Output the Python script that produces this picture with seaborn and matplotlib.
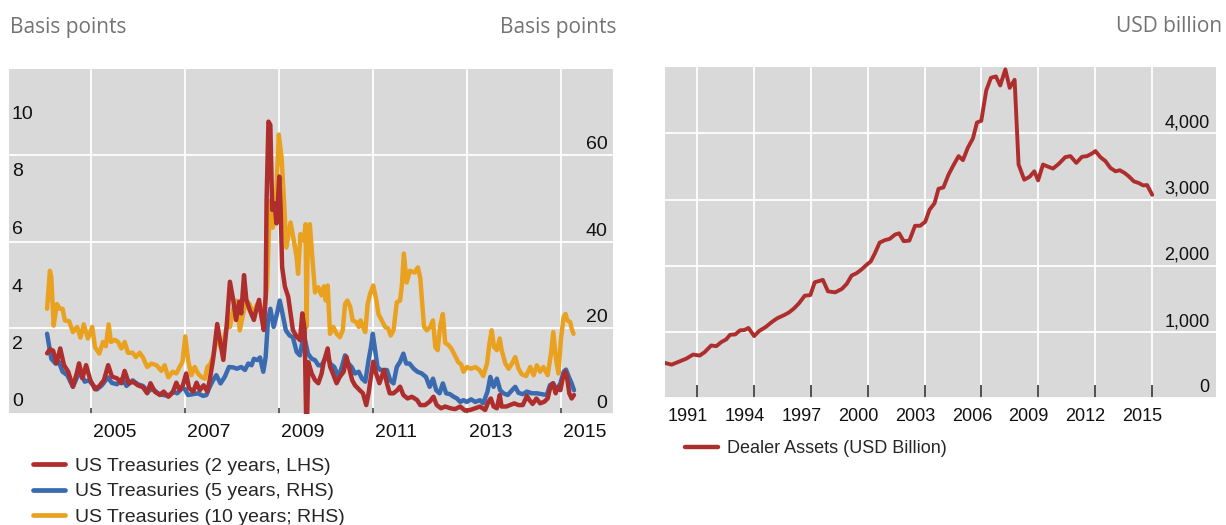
import matplotlib
matplotlib.use("Agg")
import matplotlib.pyplot as plt
import seaborn as sns
from matplotlib.lines import Line2D
from matplotlib.ticker import StrMethodFormatter
from matplotlib.transforms import ScaledTranslation

# ---------------------------------------------------------------------------
# Bid-ask spreads on US Treasuries (basis points), weekly observations
# ---------------------------------------------------------------------------
t10_years = [
    2004.07, 2004.13, 2004.16, 2004.21, 2004.28, 2004.34, 2004.40, 2004.45, 2004.54, 2004.62,
    2004.71, 2004.78, 2004.85, 2004.94, 2005.03, 2005.09, 2005.18, 2005.26, 2005.32, 2005.38,
    2005.43, 2005.51, 2005.58, 2005.65, 2005.72, 2005.79, 2005.89, 2005.96, 2006.04, 2006.11,
    2006.20, 2006.29, 2006.40, 2006.50, 2006.57, 2006.65, 2006.74, 2006.82, 2006.89, 2006.95,
    2007.01, 2007.07, 2007.14, 2007.21, 2007.28, 2007.35, 2007.43, 2007.48, 2007.55, 2007.62,
    2007.69, 2007.76, 2007.83, 2007.89, 2007.96, 2008.03, 2008.10, 2008.17, 2008.24, 2008.31,
    2008.38, 2008.45, 2008.54, 2008.60, 2008.67, 2008.75, 2008.81, 2008.87, 2008.93, 2009.00,
    2009.06, 2009.11, 2009.16, 2009.25, 2009.32, 2009.38, 2009.41, 2009.46, 2009.53, 2009.57,
    2009.59, 2009.62, 2009.66, 2009.72, 2009.77, 2009.84, 2009.91, 2009.96, 2010.00, 2010.04,
    2010.09, 2010.16, 2010.23, 2010.30, 2010.36, 2010.41, 2010.46, 2010.52, 2010.57, 2010.65,
    2010.70, 2010.74, 2010.79, 2010.84, 2010.89, 2010.94, 2011.01, 2011.07, 2011.12, 2011.19,
    2011.26, 2011.33, 2011.38, 2011.44, 2011.51, 2011.58, 2011.62, 2011.66, 2011.72, 2011.79,
    2011.89, 2011.96, 2012.01, 2012.09, 2012.15, 2012.22, 2012.28, 2012.33, 2012.38, 2012.43,
    2012.49, 2012.54, 2012.61, 2012.68, 2012.75, 2012.82, 2012.88, 2012.93, 2013.00, 2013.09,
    2013.18, 2013.27, 2013.35, 2013.43, 2013.48, 2013.53, 2013.58, 2013.64, 2013.70, 2013.74,
    2013.82, 2013.89, 2013.96, 2014.03, 2014.10, 2014.17, 2014.26, 2014.35, 2014.42, 2014.49,
    2014.56, 2014.63, 2014.72, 2014.79, 2014.84, 2014.90, 2014.95, 2015.00, 2015.06, 2015.10,
    2015.14, 2015.20, 2015.23, 2015.27,
]
t10_spread = [
    24.4, 33.2, 31.7, 20.5, 25.5, 24.4, 24.4, 21.7, 21.5, 19.0,
    20.2, 17.7, 20.8, 17.5, 20.2, 15.5, 14.0, 16.7, 15.7, 20.8,
    16.7, 17.2, 16.7, 15.2, 16.7, 14.2, 14.2, 13.2, 14.2, 13.1,
    10.9, 11.7, 11.3, 10.0, 11.3, 8.5, 9.8, 9.4, 10.9, 12.1,
    18.0, 12.5, 9.0, 10.9, 9.4, 8.6, 8.2, 10.9, 11.7, 14.0,
    18.6, 15.5, 17.1, 20.2, 20.2, 24.4, 26.3, 19.4, 23.2, 26.3,
    25.5, 23.2, 25.5, 24.0, 22.5, 29.4, 49.4, 43.2, 47.1, 64.8,
    59.4, 49.4, 38.6, 44.4, 40.2, 36.3, 32.5, 41.7, 40.2, 44.0,
    20.2, 42.0, 44.0, 35.5, 28.2, 29.4, 27.5, 29.6, 26.3, 29.8,
    18.6, 20.2, 18.6, 17.8, 19.4, 25.5, 26.3, 24.8, 21.7, 21.3,
    20.2, 21.7, 20.2, 19.0, 25.5, 27.8, 29.8, 26.7, 23.2, 21.7,
    20.2, 19.8, 18.2, 19.4, 25.9, 26.3, 30.0, 37.2, 30.5, 33.2,
    32.8, 34.0, 31.5, 20.2, 19.4, 20.2, 21.7, 15.5, 14.8, 20.2,
    23.2, 16.5, 16.0, 15.0, 13.5, 12.0, 11.5, 9.8, 10.9, 10.5,
    10.9, 10.2, 8.8, 11.7, 16.3, 19.4, 15.5, 14.8, 17.5, 14.8,
    11.7, 10.5, 11.7, 13.2, 10.5, 9.2, 8.8, 10.9, 9.0, 11.3,
    9.8, 10.9, 9.0, 14.0, 19.0, 12.5, 9.4, 17.1, 22.5, 23.2,
    21.7, 21.3, 19.8, 18.6,
]

t5_years = [
    2004.07, 2004.16, 2004.25, 2004.32, 2004.40, 2004.50, 2004.62, 2004.71, 2004.80, 2004.87,
    2004.96, 2005.05, 2005.13, 2005.24, 2005.36, 2005.45, 2005.56, 2005.67, 2005.76, 2005.89,
    2006.00, 2006.11, 2006.22, 2006.31, 2006.43, 2006.54, 2006.65, 2006.75, 2006.84, 2006.93,
    2007.00, 2007.07, 2007.18, 2007.28, 2007.39, 2007.46, 2007.53, 2007.60, 2007.67, 2007.76,
    2007.85, 2007.94, 2008.03, 2008.11, 2008.20, 2008.28, 2008.35, 2008.42, 2008.47, 2008.54,
    2008.60, 2008.67, 2008.72, 2008.77, 2008.82, 2008.89, 2008.96, 2009.02, 2009.08, 2009.15,
    2009.23, 2009.30, 2009.38, 2009.45, 2009.53, 2009.62, 2009.70, 2009.77, 2009.84, 2009.91,
    2009.97, 2010.02, 2010.09, 2010.18, 2010.27, 2010.34, 2010.41, 2010.48, 2010.55, 2010.62,
    2010.70, 2010.77, 2010.84, 2010.91, 2010.96, 2011.00, 2011.05, 2011.10, 2011.16, 2011.23,
    2011.30, 2011.37, 2011.44, 2011.51, 2011.58, 2011.65, 2011.71, 2011.78, 2011.87, 2011.95,
    2012.04, 2012.13, 2012.21, 2012.28, 2012.35, 2012.42, 2012.49, 2012.56, 2012.64, 2012.72,
    2012.79, 2012.86, 2012.93, 2013.00, 2013.09, 2013.18, 2013.28, 2013.35, 2013.44, 2013.50,
    2013.57, 2013.64, 2013.71, 2013.78, 2013.87, 2013.96, 2014.03, 2014.10, 2014.19, 2014.28,
    2014.38, 2014.49, 2014.60, 2014.70, 2014.77, 2014.84, 2014.91, 2014.99, 2015.06, 2015.11,
    2015.17, 2015.23, 2015.28,
]
t5_spread = [
    18.6, 12.8, 11.7, 12.1, 9.8, 9.0, 6.3, 8.6, 9.4, 7.5,
    7.8, 6.7, 5.7, 6.7, 8.5, 7.2, 6.9, 8.2, 6.5, 7.8,
    6.9, 6.5, 5.2, 5.9, 4.8, 4.4, 4.2, 5.2, 4.8, 5.9,
    5.8, 4.4, 4.6, 4.8, 4.2, 4.4, 6.3, 7.8, 9.0, 7.1,
    8.6, 10.9, 10.8, 10.5, 10.9, 10.2, 11.7, 11.3, 12.8, 12.5,
    13.1, 9.8, 13.2, 21.7, 24.4, 20.2, 23.2, 26.3, 23.2, 19.4,
    18.2, 17.8, 14.4, 13.6, 18.6, 14.0, 12.8, 12.5, 11.3, 11.3,
    12.5, 14.0, 11.7, 10.9, 8.6, 10.9, 13.6, 11.7, 10.9, 9.4,
    9.8, 8.2, 7.5, 12.5, 15.5, 18.6, 14.8, 10.9, 10.2, 10.2,
    10.2, 7.8, 7.1, 10.9, 12.1, 14.0, 11.7, 11.7, 10.5, 9.8,
    9.4, 8.6, 6.3, 8.2, 5.5, 4.8, 7.1, 4.8, 4.6, 4.0,
    3.6, 2.8, 3.2, 2.8, 3.4, 2.8, 3.2, 2.5, 5.2, 8.6,
    6.3, 8.2, 5.5, 4.8, 4.4, 5.5, 6.3, 4.9, 4.6, 5.2,
    4.8, 4.8, 4.6, 4.4, 6.7, 7.1, 5.5, 7.1, 9.8, 10.3,
    8.6, 7.1, 5.5,
]

t2_years = [
    2004.07, 2004.13, 2004.20, 2004.27, 2004.35, 2004.43, 2004.52, 2004.62, 2004.70, 2004.75,
    2004.82, 2004.90, 2004.99, 2005.09, 2005.18, 2005.28, 2005.37, 2005.45, 2005.56, 2005.65,
    2005.72, 2005.81, 2005.90, 2006.00, 2006.11, 2006.20, 2006.27, 2006.36, 2006.47, 2006.55,
    2006.65, 2006.74, 2006.82, 2006.89, 2006.96, 2007.03, 2007.09, 2007.18, 2007.25, 2007.32,
    2007.40, 2007.48, 2007.53, 2007.60, 2007.69, 2007.76, 2007.82, 2007.89, 2007.96, 2008.03,
    2008.09, 2008.16, 2008.20, 2008.26, 2008.31, 2008.38, 2008.47, 2008.52, 2008.58, 2008.63,
    2008.68, 2008.72, 2008.74, 2008.78, 2008.82, 2008.86, 2008.91, 2008.95, 2008.98, 2009.01,
    2009.04, 2009.07, 2009.13, 2009.20, 2009.23, 2009.30, 2009.38, 2009.45, 2009.50, 2009.55,
    2009.59, 2009.63, 2009.70, 2009.77, 2009.84, 2009.91, 2009.95, 2010.04, 2010.09, 2010.15,
    2010.23, 2010.30, 2010.38, 2010.44, 2010.49, 2010.56, 2010.62, 2010.72, 2010.79, 2010.86,
    2010.91, 2010.96, 2011.01, 2011.07, 2011.14, 2011.19, 2011.24, 2011.30, 2011.36, 2011.44,
    2011.52, 2011.58, 2011.65, 2011.74, 2011.83, 2011.94, 2012.01, 2012.11, 2012.21, 2012.29,
    2012.36, 2012.45, 2012.54, 2012.65, 2012.75, 2012.86, 2012.96, 2013.07, 2013.18, 2013.28,
    2013.39, 2013.46, 2013.51, 2013.57, 2013.64, 2013.70, 2013.74, 2013.84, 2013.92, 2014.01,
    2014.10, 2014.19, 2014.28, 2014.33, 2014.40, 2014.48, 2014.56, 2014.65, 2014.72, 2014.77,
    2014.83, 2014.89, 2014.93, 2014.99, 2015.04, 2015.10, 2015.14, 2015.18, 2015.23, 2015.28,
]
t2_spread = [
    2.11, 2.25, 2.20, 1.76, 2.28, 1.70, 1.47, 0.95, 1.41, 1.76,
    1.24, 1.70, 1.18, 0.86, 0.97, 1.18, 1.70, 1.30, 1.24, 1.07,
    1.50, 1.07, 1.12, 1.00, 0.93, 0.72, 1.07, 0.78, 0.66, 0.78,
    0.60, 0.74, 1.09, 0.83, 1.00, 1.41, 0.90, 0.78, 1.09, 0.83,
    1.00, 0.78, 1.18, 1.88, 3.13, 2.46, 1.88, 3.04, 4.60, 3.97,
    3.27, 3.91, 3.50, 4.83, 3.97, 3.62, 3.27, 3.62, 3.97, 3.39,
    2.92, 4.08, 7.44, 10.17, 10.05, 7.10, 7.33, 6.63, 7.33, 8.26,
    7.10, 5.12, 4.43, 4.08, 3.73, 2.92, 2.69, 2.57, 3.50, 2.92,
    -1.00, 1.80, 1.41, 1.18, 1.07, 1.40, 1.76, 2.28, 1.65, 1.41,
    1.07, 1.30, 1.47, 1.99, 1.65, 1.18, 1.00, 0.83, 0.72, 0.31,
    0.72, 1.30, 1.82, 1.41, 1.07, 1.30, 1.53, 1.07, 0.72, 0.72,
    0.83, 0.95, 0.66, 0.54, 0.60, 0.49, 0.31, 0.31, 0.43, 0.60,
    0.31, 0.20, 0.26, 0.20, 0.17, 0.26, 0.12, 0.14, 0.20, 0.26,
    0.14, 0.43, 0.54, 0.26, 0.20, 0.66, 0.26, 0.26, 0.31, 0.37,
    0.31, 0.31, 0.63, 0.49, 0.35, 0.54, 0.37, 0.43, 0.54, 0.89,
    1.07, 0.72, 0.93, 0.83, 1.24, 1.47, 1.18, 0.72, 0.54, 0.66,
]

# ---------------------------------------------------------------------------
# Primary dealer assets (USD billion), quarterly
# ---------------------------------------------------------------------------
dealer_years = [
    1989.29, 1989.64, 1990.07, 1990.42, 1990.77, 1991.12, 1991.38, 1991.73, 1992.00, 1992.26,
    1992.52, 1992.73, 1993.00, 1993.25, 1993.48, 1993.70, 1994.00, 1994.26, 1994.61, 1994.96,
    1995.22, 1995.57, 1995.83, 1996.10, 1996.36, 1996.67, 1996.97, 1997.20, 1997.63, 1997.90,
    1998.28, 1998.63, 1998.89, 1999.15, 1999.41, 1999.67, 1999.94, 2000.16, 2000.37, 2000.63,
    2000.90, 2001.16, 2001.45, 2001.66, 2001.90, 2002.20, 2002.50, 2002.77, 2003.04, 2003.26,
    2003.53, 2003.74, 2004.00, 2004.27, 2004.53, 2004.80, 2005.03, 2005.29, 2005.56, 2005.77,
    2006.00, 2006.26, 2006.51, 2006.77, 2007.00, 2007.27, 2007.50, 2007.76, 2007.97, 2008.27,
    2008.56, 2008.80, 2009.00, 2009.26, 2009.56, 2009.79, 2010.09, 2010.44, 2010.71, 2011.02,
    2011.32, 2011.59, 2011.85, 2012.03, 2012.29, 2012.56, 2012.82, 2013.09, 2013.32, 2013.57,
    2013.79, 2014.06, 2014.32, 2014.55, 2014.76, 2015.03,
]
dealer_assets = [
    533, 508, 558, 599, 660, 645, 695, 797, 787, 848,
    888, 959, 964, 1025, 1030, 1061, 939, 1015, 1076, 1157,
    1208, 1254, 1294, 1355, 1431, 1548, 1558, 1751, 1787, 1614,
    1599, 1650, 1726, 1853, 1888, 1944, 2015, 2066, 2183, 2350,
    2386, 2406, 2472, 2490, 2371, 2380, 2604, 2604, 2665, 2843,
    2944, 3162, 3183, 3376, 3518, 3655, 3594, 3782, 3924, 4162,
    4188, 4645, 4837, 4858, 4721, 4964, 4685, 4807, 3528, 3299,
    3345, 3426, 3289, 3528, 3492, 3467, 3538, 3640, 3655, 3553,
    3645, 3655, 3695, 3731, 3640, 3579, 3477, 3426, 3441, 3401,
    3350, 3274, 3249, 3213, 3218, 3071,
]

spread_ticks_lhs = [0, 2, 4, 6, 8, 10]
spread_ticks_rhs = [0, 20, 40, 60]
spread_year_ticks = [2005, 2007, 2009, 2011, 2013, 2015]
dealer_value_ticks = [0, 1000, 2000, 3000, 4000]
dealer_year_ticks = [1991, 1994, 1997, 2000, 2003, 2006, 2009, 2012, 2015]

legend_spreads = ["US Treasuries (2 years, LHS)", "US Treasuries (5 years, RHS)",
                  "US Treasuries (10 years; RHS)"]
legend_dealer = "Dealer Assets (USD Billion)"

RED = "#AE2D2D"
BLUE = "#3A6AAF"
ORANGE = "#E9A11F"
PANEL = "#D9D9D9"
UNIT_GREY = "#737373"

sns.set_style("darkgrid", {"axes.facecolor": PANEL, "grid.color": "white"})
plt.rcParams["font.family"] = ["Liberation Sans", "DejaVu Sans"]

W, H = 1226, 525
fig = plt.figure(figsize=(W / 100, H / 100), dpi=100)
fig.patch.set_facecolor("white")


def hide_spines(a):
    for s in a.spines.values():
        s.set_visible(False)


def lift(labels, px):
    """Raise tick labels by a few pixels so they sit above their value."""
    for lbl in labels:
        lbl.set_transform(lbl.get_transform()
                          + ScaledTranslation(0, px / 100, fig.dpi_scale_trans))


# ---------------- left panel: spreads ----------------
ax = fig.add_axes([9 / W, 111 / H, 604 / W, 345 / H])
ax_l = ax.twinx()

sns.lineplot(x=t10_years, y=t10_spread, ax=ax, color=ORANGE, lw=3.2,
             estimator=None, sort=False)
sns.lineplot(x=t5_years, y=t5_spread, ax=ax, color=BLUE, lw=3.2,
             estimator=None, sort=False)
sns.lineplot(x=t2_years, y=t2_spread, ax=ax_l, color=RED, lw=3.2,
             estimator=None, sort=False)

ax.set_xlim(2003.26, 2016.11)
ax.set_ylim(0, 80)
ax_l.set_ylim(0, 12)
for a in (ax, ax_l):
    a.set_xlabel("")
    a.set_ylabel("")
    hide_spines(a)

ax.set_axisbelow(True)
ax.grid(True, which="major", color="white", lw=1.3)
ax.grid(False, which="minor")
ax_l.grid(False)

# year ticks at January, year labels centred on mid-year
ax.set_xticks(spread_year_ticks)
ax.set_xticklabels([])
ax.set_xticks([y + 0.5 for y in spread_year_ticks], minor=True)
ax.set_xticklabels([str(y) for y in spread_year_ticks], minor=True)
ax.tick_params(axis="x", which="major", direction="in", length=4, width=1.1,
               color="#333333", bottom=True)
ax.tick_params(axis="x", which="minor", length=0, labelsize=14, pad=7,
               colors="#111111", bottom=True)

ax.yaxis.tick_right()
ax.set_yticks(spread_ticks_rhs)
ax.tick_params(axis="y", length=0, pad=-4, labelsize=14, labelcolor="#111111",
               right=False, labelright=True, labelleft=False)
for lbl in ax.get_yticklabels():
    lbl.set_ha("right")
    lbl.set_va("bottom")

ax_l.yaxis.tick_left()
ax_l.set_yticks(spread_ticks_lhs)
ax_l.tick_params(axis="y", length=0, pad=-2, labelsize=14, labelcolor="#111111",
                 left=False, labelleft=True, labelright=False)
for lbl in ax_l.get_yticklabels():
    lbl.set_ha("left")
    lbl.set_va("bottom")

fig.legend(
    [Line2D([], [], color=c, lw=3.4) for c in (RED, BLUE, ORANGE)],
    legend_spreads,
    loc="upper left", bbox_to_anchor=(33 / W, 1 - 457 / H),
    frameon=False, fontsize=14, handlelength=1.65, handletextpad=0.5,
    labelspacing=0.42, borderpad=0, borderaxespad=0,
)

# ---------------- right panel: dealer assets ----------------
ax_d = fig.add_axes([665 / W, 126.7 / H, 551 / W, 331.3 / H])
sns.lineplot(x=dealer_years, y=dealer_assets, ax=ax_d, color=RED, lw=2.8,
             estimator=None, sort=False)
ax_d.set_xlim(1989.29, 2018.4)
ax_d.set_ylim(0, 5000)
ax_d.set_xlabel("")
ax_d.set_ylabel("")
hide_spines(ax_d)
ax_d.set_axisbelow(True)
ax_d.grid(True, which="major", color="white", lw=1.3)
ax_d.grid(False, which="minor")

ax_d.set_xticks(dealer_year_ticks)
ax_d.set_xticklabels([])
ax_d.set_xticks([y - 0.5 for y in dealer_year_ticks], minor=True)
ax_d.set_xticklabels([str(y) for y in dealer_year_ticks], minor=True)
ax_d.tick_params(axis="x", which="major", direction="in", length=9.5, width=1.1,
                 color="#222222", bottom=True)
ax_d.tick_params(axis="x", which="minor", length=0, labelsize=13, pad=7,
                 colors="#111111", bottom=True)

ax_d.yaxis.tick_right()
ax_d.set_yticks(dealer_value_ticks)
ax_d.yaxis.set_major_formatter(StrMethodFormatter("{x:,.0f}"))
ax_d.tick_params(axis="y", length=0, pad=-4.5, labelsize=13, labelcolor="#111111",
                 right=False, labelright=True, labelleft=False)
for lbl in ax_d.get_yticklabels():
    lbl.set_ha("right")
    lbl.set_va("bottom")

fig.legend(
    [Line2D([], [], color=RED, lw=3.2)], [legend_dealer],
    loc="upper left", bbox_to_anchor=(685 / W, 1 - 440 / H),
    frameon=False, fontsize=13, handlelength=1.85, handletextpad=0.5,
    borderpad=0, borderaxespad=0,
)

# ---------------- unit captions ----------------
unit_style = dict(family=["Open Sans", "DejaVu Sans"], size=15, color=UNIT_GREY, va="center")
fig.text(10 / W, 1 - 27 / H, "Basis points", ha="left", **unit_style)
fig.text(616 / W, 1 - 27 / H, "Basis points", ha="right", **unit_style)
fig.text(1222 / W, 1 - 27 / H, "USD billion", ha="right", **unit_style)

# nudge the inside value labels upward once the ticks exist
fig.canvas.draw()
lift(ax_l.get_yticklabels(), 3.5)
lift(ax.get_yticklabels(), 2)
lift(ax_d.get_yticklabels(), 2)

fig.savefig("out.png", dpi=100, facecolor="white")
